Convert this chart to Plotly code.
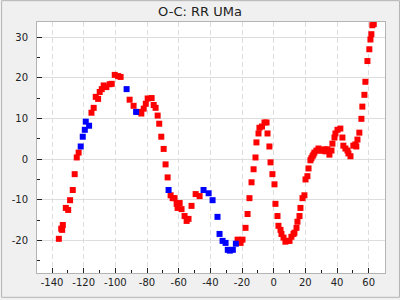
import plotly.graph_objects as go

# O-C data (days from epoch x, O-C value y)
red_x = [-135.7, -134.2, -133.6, -133.2, -131.3, -129.8, -128.6, -126.9, -125.7, -124.4, -123.2,
         -115.1, -113.7, -112.4, -110.9, -109.9, -108.6, -107.4, -105.7, -103.6, -102.3, -100.4,
         -98.3, -96.7, -91.0, -88.5, -85.2, -83.6, -82.1, -80.8, -79.6, -77.1, -75.8, -74.6,
         -73.3, -72.3, -71.0, -69.5, -68.3, -67.0, -65.1, -63.8, -62.6, -61.3, -60.7, -59.4,
         -58.2, -56.3, -55.0, -53.8, -51.9, -49.3, -46.8, -22.8, -20.9, -19.7, -17.8, -16.5,
         -15.3, -14.0, -12.7, -11.5, -10.9, -9.6, -9.0, -7.4, -5.8, -4.5, -3.9, -2.7, -2.0,
         -0.8, 0.5, 1.1, 2.4, 3.0, 4.3, 4.9, 6.2, 7.4, 8.7, 10.0, 11.2, 12.5, 13.1, 14.4,
         15.0, 16.3, 16.9, 18.2, 19.4, 20.1, 21.3, 22.0, 23.2, 23.8, 24.5, 25.1, 25.7, 27.0,
         28.3, 29.5, 30.8, 32.1, 32.7, 33.9, 35.2, 36.5, 37.1, 38.4, 39.0, 40.3, 42.1, 43.4,
         44.0, 45.3, 46.6, 47.2, 48.5, 50.3, 51.6, 52.2, 52.9, 54.1, 55.4, 56.0, 57.3, 57.9,
         59.2, 60.4, 61.1, 61.7, 62.3, 63.2]
red_y = [-19.6, -17.1, -17.4, -16.2, -12.0, -12.5, -10.1, -7.6, -3.7, 0.4, 1.6,
         11.4, 12.6, 15.3, 14.8, 16.5, 17.2, 18.1, 17.7, 18.4, 18.5, 20.7,
         20.4, 20.2, 14.6, 13.1, 11.6, 11.2, 12.4, 13.6, 14.9, 15.0, 13.3, 12.6,
         10.7, 8.7, 5.5, 2.5, -1.3, -4.5, -8.9, -9.6, -9.6, -11.0, -12.0, -10.8,
         -12.3, -14.0, -15.2, -14.7, -11.5, -8.6, -9.1, -19.8, -20.6, -19.8, -16.9, -13.5,
         -9.6, -5.7, -2.5, 0.4, 4.1, 6.3, 7.7, 8.0, 9.0, 9.0, 6.3, 3.1, -0.8,
         -3.7, -6.2, -11.0, -14.0, -16.4, -17.4, -18.4, -19.3, -20.3, -20.1, -20.1, -19.1, -18.4, -18.1, -16.9,
         -15.4, -14.0, -12.0, -9.6, -8.9, -5.0, -4.2, -2.3, -0.3, 0.2, 0.7, 1.1, 1.6, 2.1,
         2.6, 2.1, 2.1, 2.4, 1.9, 2.4, 1.1, 2.1, 3.8, 5.3, 6.3, 7.2, 7.5, 5.3,
         3.3, 2.6, 2.1, 1.4, 0.7, 3.3, 3.6, 3.1, 4.8, 6.5, 9.9, 12.9, 15.8, 19.0,
         24.1, 27.0, 29.4, 30.7, 32.9, 33.2]

blue_x = [-121.9, -120.6, -119.3, -118.7, -116.6, -92.9, -86.9, -66.4, -44.3, -41.1, -38.6,
          -35.5, -34.2, -32.3, -30.4, -29.0, -27.7, -25.8, -23.9]
blue_y = [3.1, 5.5, 7.2, 9.2, 8.2, 17.2, 11.6, -7.6, -7.6, -8.4, -10.1,
          -14.2, -18.4, -20.1, -20.6, -22.3, -22.5, -22.3, -20.8]

x_ticks = [-140, -120, -100, -80, -60, -40, -20, 0, 20, 40, 60]
x_labels = ["-140", "-120", "-100", "-80", "-60", "-40", "-20", "0", "20", "40", "60"]
y_ticks = [-20, -10, 0, 10, 20, 30]
y_labels = ["-20", "-10", "0", "10", "20", "30"]

title = "O-C: RR UMa"

W, H = 400, 300
ML, MR, MT, MB = 36, 15, 22, 25
pw, ph = W - ML - MR, H - MT - MB

fig = go.Figure()
fig.add_trace(go.Scatter(x=red_x, y=red_y, mode="markers",
                         marker=dict(symbol="square", size=6, color="#ff0000", line=dict(width=0)),
                         showlegend=False))
fig.add_trace(go.Scatter(x=blue_x, y=blue_y, mode="markers",
                         marker=dict(symbol="square", size=6, color="#0000ff", line=dict(width=0)),
                         showlegend=False))

axis_common = dict(showline=True, linecolor="#b4b4b4", linewidth=1, mirror=True,
                   ticks="inside", ticklen=5, tickcolor="#222222", tickwidth=1,
                   zeroline=False, tickfont=dict(family="DejaVu Sans", size=10, color="#222222"))

fig.update_xaxes(range=[-149.5, 70.3], tickvals=x_ticks, ticktext=x_labels,
                 showgrid=True, gridcolor="#dddddd", griddash="5px,3px", gridwidth=1,
                 minor=dict(dtick=10, tick0=0, ticks="inside", ticklen=3, tickcolor="#222222", showgrid=False),
                 **axis_common)
fig.update_yaxes(range=[-28.0, 33.7], tickvals=y_ticks, ticktext=y_labels,
                 showgrid=True, gridcolor="#dddddd", gridwidth=1,
                 minor=dict(dtick=5, tick0=0, ticks="inside", ticklen=3, tickcolor="#222222", showgrid=False),
                 ticklabelstandoff=6,
                 **axis_common)

fig.add_shape(type="rect", xref="paper", yref="paper",
              x0=-(ML - 0.5) / pw, x1=1 + (MR - 0.5) / pw,
              y0=-(MB - 0.5) / ph, y1=1 + (MT - 0.5) / ph,
              line=dict(color="#b4b4b4", width=1), fillcolor="rgba(0,0,0,0)", layer="below")

fig.update_layout(
    width=W, height=H,
    margin=dict(l=ML, r=MR, t=MT, b=MB),
    paper_bgcolor="#f0f0f0", plot_bgcolor="#ffffff",
    title=dict(text=title, x=0.5, xanchor="center", y=1 - 11 / H, yanchor="middle",
               font=dict(family="DejaVu Sans", size=13, color="#222222")),
    font=dict(family="DejaVu Sans"),
)

fig.write_html("out.html")
